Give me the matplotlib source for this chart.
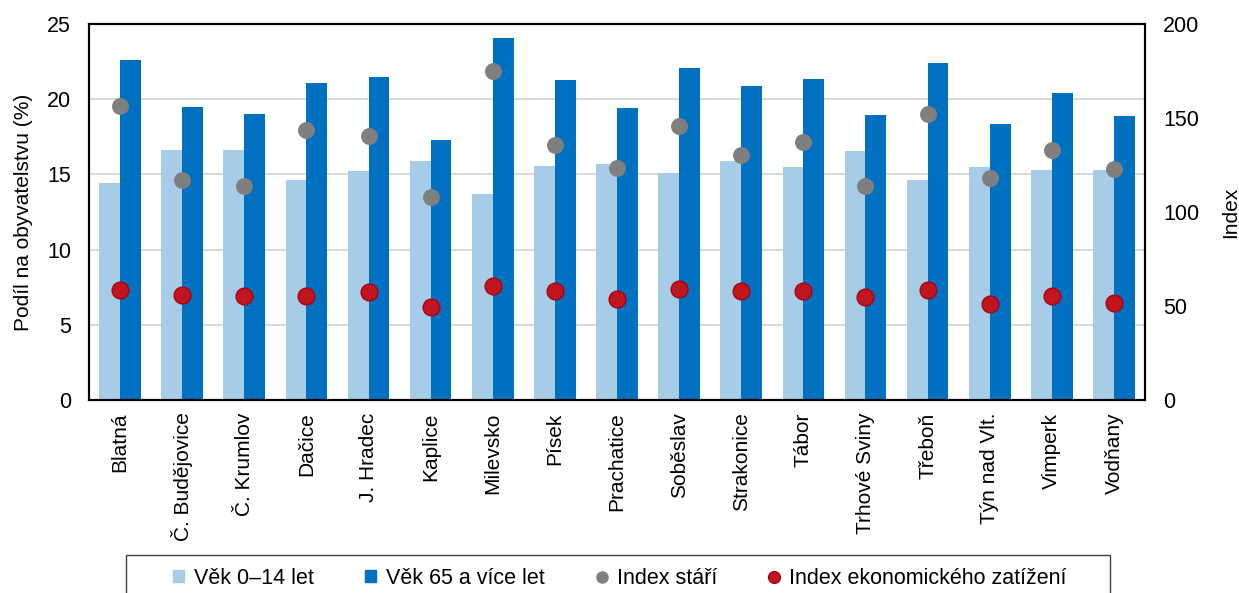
import numpy as np
import matplotlib.pyplot as plt
from matplotlib.lines import Line2D
from matplotlib.patches import Patch, Rectangle

plt.rcParams['font.family'] = ['Liberation Sans', 'DejaVu Sans']

# Data
mesta = ['Blatná', 'Č. Budějovice', 'Č. Krumlov', 'Dačice', 'J. Hradec', 'Kaplice',
         'Milevsko', 'Písek', 'Prachatice', 'Soběslav', 'Strakonice', 'Tábor',
         'Trhové Sviny', 'Třeboň', 'Týn nad Vlt.', 'Vimperk', 'Vodňany']
vek_0_14 = [14.4, 16.6, 16.65, 14.6, 15.25, 15.92, 13.71, 15.58, 15.67, 15.12, 15.92, 15.49,
            16.56, 14.63, 15.52, 15.29, 15.32]
vek_65 = [22.6, 19.5, 19.03, 21.06, 21.48, 17.3, 24.09, 21.26, 19.39, 22.1, 20.86, 21.37,
          18.97, 22.4, 18.37, 20.44, 18.9]
index_stari = [156.2, 117, 113.6, 143.4, 140.3, 108.1, 174.9, 135.9, 123.2, 145.9, 130.5, 137.5,
               113.8, 152.3, 117.9, 133.2, 122.9]
index_ekon = [58.4, 56.1, 55.2, 55.2, 57.7, 49.5, 60.4, 58.1, 53.8, 58.9, 57.9, 58.1,
              54.9, 58.6, 50.9, 55.4, 51.6]

light = '#a6cce8'
dark = '#0070c0'
grey = '#7f7f7f'
red = '#c0161f'
red_edge = '#b00010'

W, H = 1239, 593
fig = plt.figure(figsize=(W / 100, H / 100), dpi=100)
ax = fig.add_axes([89 / W, 1 - 400 / H, (1145 - 89) / W, 376 / H])
ax2 = ax.twinx()

x = np.arange(len(mesta))
w = 0.335
ax.bar(x - w / 2, vek_0_14, w, color=light, zorder=2)
ax.bar(x + w / 2, vek_65, w, color=dark, zorder=2)

ax2.scatter(x, index_stari, s=125, color=grey, zorder=3)
ax2.scatter(x, index_ekon, s=145, color=red, edgecolor=red_edge, linewidth=1, zorder=3)

ax.set_ylim(0, 25)
ax.set_yticks(range(0, 26, 5))
ax2.set_ylim(0, 200)
ax2.set_yticks(range(0, 201, 50))
ax.set_xlim(-0.5, len(mesta) - 0.5)
ax.set_xticks(x)
ax.set_xticklabels(mesta, rotation=90, fontsize=15)
ax.grid(axis='y', color='#d9d9d9', linewidth=1.5, zorder=0)
ax.set_axisbelow(True)

for a in (ax, ax2):
    a.tick_params(axis='both', length=0, labelsize=15.5, pad=13)
    for s in a.spines.values():
        s.set_linewidth(1.5)
ax.tick_params(axis='x', pad=9, labelsize=15)

ax.set_ylabel('Podíl na obyvatelstvu (%)', fontsize=15, labelpad=10)
ax2.set_ylabel('Index', fontsize=15, labelpad=16)

# rámeček legendy (přesahuje spodní okraj)
fig.patches.append(Rectangle((126 / W, -0.05), (1110 - 126) / W, 0.05 + 1 - 555 / H,
                             transform=fig.transFigure, fill=False,
                             edgecolor='#404040', linewidth=1))

handles = [
    Patch(color=light, label='Věk 0–14 let'),
    Patch(color=dark, label='Věk 65 a více let'),
    Line2D([], [], marker='o', linestyle='', color=grey, markersize=8, label='Index stáří'),
    Line2D([], [], marker='o', linestyle='', color=red, markeredgecolor=red_edge,
           markersize=8.5, label='Index ekonomického zatížení'),
]
leg = fig.legend(handles=handles, loc='center', ncol=4, fontsize=15.5,
                 bbox_to_anchor=(620 / W, 1 - 578 / H), frameon=False,
                 handlelength=0.5, handleheight=0.5, handletextpad=0.45,
                 columnspacing=2.4)

fig.savefig('out.png', dpi=100)
